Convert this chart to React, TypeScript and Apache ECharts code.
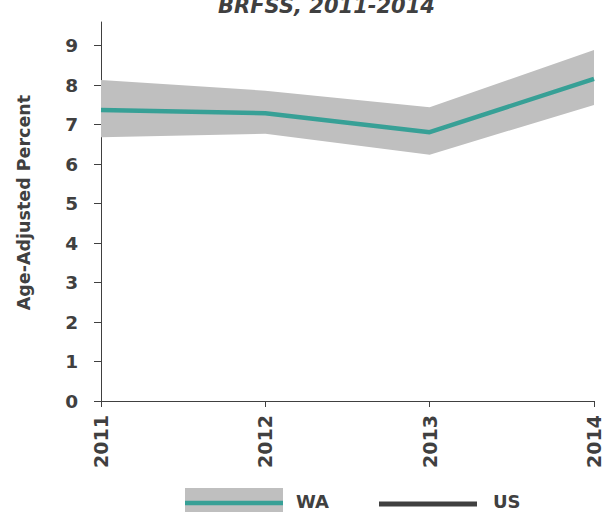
import React, { useEffect, useRef } from "react";
import * as echarts from "echarts";

const years = ["2011", "2012", "2013", "2014"];
const waValues = [7.37, 7.29, 6.81, 8.16];
const waLower = [6.68, 6.77, 6.24, 7.5];
const waUpper = [8.13, 7.86, 7.44, 8.89];
const usValues: (number | null)[] = [null, null, null, null];
const yTicks = [0, 1, 2, 3, 4, 5, 6, 7, 8, 9];

const TXT = "#404040";
const TEAL = "#37a096";
const BAND = "#bfbfbf";
const FONT = "DejaVu Sans";

export default function App() {
  const ref = useRef<HTMLDivElement>(null);
  useEffect(() => {
    if (!ref.current) return;
    const chart = echarts.init(ref.current, null, { renderer: "svg" });
    const bandDiff = waUpper.map((u, i) => +(u - waLower[i]).toFixed(3));
    chart.setOption({
      animation: false,
      backgroundColor: "#ffffff",
      grid: { left: 101, right: 16, top: 22, bottom: 111, containLabel: false },
      xAxis: {
        type: "category",
        data: years,
        boundaryGap: false,
        axisLine: { lineStyle: { color: TXT, width: 1 } },
        axisTick: { show: true, length: 6, lineStyle: { color: TXT } },
        axisLabel: {
          rotate: 90,
          margin: 14,
          color: TXT,
          fontFamily: FONT,
          fontWeight: "bold",
          fontSize: 19,
        },
        splitLine: { show: false },
      },
      yAxis: {
        type: "value",
        min: 0,
        max: 9.6,
        interval: 1,
        name: "Age-Adjusted Percent",
        nameLocation: "middle",
        nameGap: 68,
        nameTextStyle: {
          color: TXT,
          fontFamily: FONT,
          fontWeight: "bold",
          fontSize: 17.5,
          padding: [0, 0, 0, 18],
        },
        axisLine: { show: true, lineStyle: { color: TXT, width: 1 } },
        axisTick: { show: true, length: 7, lineStyle: { color: TXT }, customValues: yTicks },
        axisLabel: {
          margin: 23,
          color: TXT,
          fontFamily: FONT,
          fontWeight: "bold",
          fontSize: 18.5,
          customValues: yTicks,
        },
        splitLine: { show: false },
      },
      series: [
        {
          name: "lower",
          type: "line",
          stack: "band",
          data: waLower,
          symbol: "none",
          lineStyle: { opacity: 0 },
          silent: true,
          z: 1,
        },
        {
          name: "WA CI",
          type: "line",
          stack: "band",
          data: bandDiff,
          symbol: "none",
          lineStyle: { opacity: 0 },
          areaStyle: { color: BAND, opacity: 1 },
          silent: true,
          z: 1,
        },
        {
          name: "WA",
          type: "line",
          data: waValues,
          symbol: "none",
          lineStyle: { color: TEAL, width: 4.5 },
          z: 3,
        },
        {
          name: "US",
          type: "line",
          data: usValues,
          symbol: "none",
          lineStyle: { color: TXT, width: 5 },
          z: 3,
        },
      ],
      graphic: [
        {
          type: "text",
          x: 218,
          y: -5,
          style: {
            text: "BRFSS, 2011-2014",
            fill: TXT,
            fontFamily: FONT,
            fontWeight: "bold",
            fontStyle: "italic",
            fontSize: 21,
          },
        },
        {
          type: "rect",
          shape: { x: 185, y: 488, width: 98, height: 24 },
          style: { fill: BAND },
        },
        {
          type: "line",
          shape: { x1: 185, y1: 503, x2: 283, y2: 503 },
          style: { stroke: TEAL, lineWidth: 4.5 },
        },
        {
          type: "text",
          x: 296,
          y: 492,
          style: {
            text: "WA",
            fill: TXT,
            fontFamily: FONT,
            fontWeight: "bold",
            fontSize: 18,
          },
        },
        {
          type: "line",
          shape: { x1: 379, y1: 504, x2: 477, y2: 504 },
          style: { stroke: TXT, lineWidth: 5 },
        },
        {
          type: "text",
          x: 493,
          y: 492,
          style: {
            text: "US",
            fill: TXT,
            fontFamily: FONT,
            fontWeight: "bold",
            fontSize: 18,
          },
        },
      ],
    });
    return () => chart.dispose();
  }, []);
  return (
    <div
      ref={ref}
      style={{ position: "absolute", left: 0, top: 0, width: 610, height: 512 }}
    />
  );
}
